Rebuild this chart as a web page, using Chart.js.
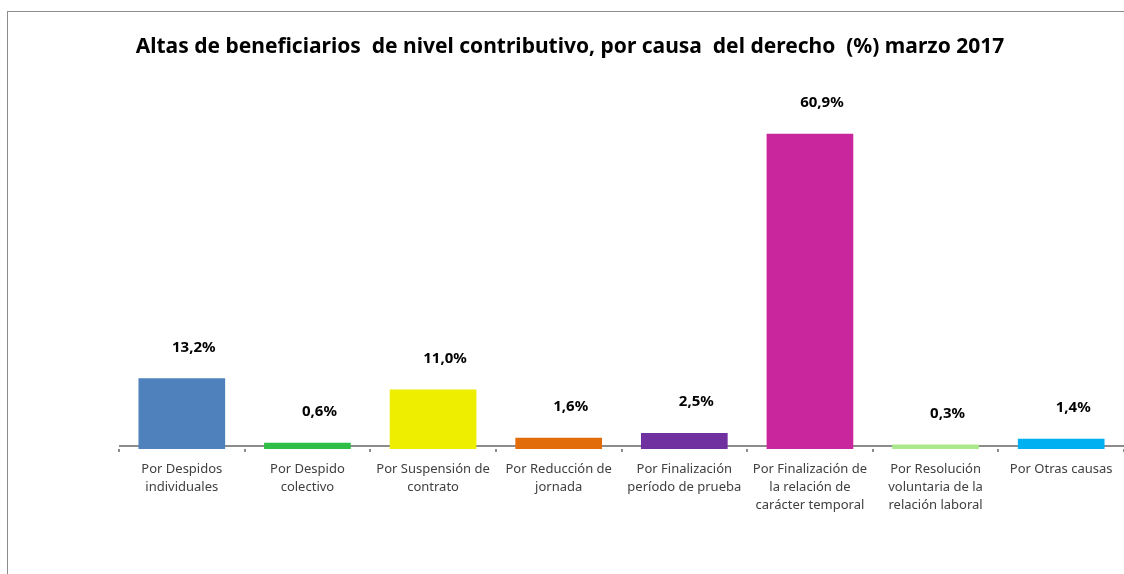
<!DOCTYPE html>
<html>
<head>
<meta charset="utf-8">
<script src="https://cdn.jsdelivr.net/npm/chart.js@4.4.0/dist/chart.umd.min.js"></script>
<style>
  html, body { margin: 0; padding: 0; background: #fff; overflow: hidden; }
  #wrap { position: relative; width: 1124px; height: 574px; }
  #frame { position: absolute; left: 7px; top: 11px; width: 1200px; height: 700px; border: 1px solid #8c8c8c; border-width: 1px 0 0 1px; }
  canvas { position: absolute; left: 0; top: 0; }
</style>
</head>
<body>
<div id="wrap">
  <div id="frame"></div>
  <canvas id="altasChart" width="1124" height="574"></canvas>
</div>
<script>
// categories (multi-line labels)
var causas = [
  ['Por Despidos', 'individuales'],
  ['Por Despido', 'colectivo'],
  ['Por Suspensión de', 'contrato'],
  ['Por Reducción de', 'jornada'],
  ['Por Finalización', 'período de prueba'],
  ['Por Finalización de', 'la relación de', 'carácter temporal'],
  ['Por Resolución', 'voluntaria de la', 'relación laboral'],
  ['Por Otras causas']
];
var porcentajes = [13.2, 0.6, 11.0, 1.6, 2.5, 60.9, 0.3, 1.4];
var colores = ['#4f81bd', '#2fbf47', '#eeee00', '#e26b0a', '#7030a0', '#c9259c', '#a9e98c', '#00b0f0'];

var fontFam = "'Noto Sans', sans-serif";

// percent labels above each bar
var valueLabels = {
  id: 'valueLabels',
  afterDatasetsDraw: function (chart) {
    var ctx = chart.ctx;
    var meta = chart.getDatasetMeta(0);
    ctx.save();
    ctx.font = 'bold 15px ' + fontFam;
    ctx.fillStyle = '#000';
    ctx.textAlign = 'center';
    ctx.textBaseline = 'middle';
    meta.data.forEach(function (bar, i) {
      var txt = porcentajes[i].toFixed(1).replace('.', ',') + '%';
      ctx.fillText(txt, bar.x + 12, bar.y - 31);
    });
    ctx.restore();
  }
};

var ctx = document.getElementById('altasChart').getContext('2d');
new Chart(ctx, {
  type: 'bar',
  data: {
    labels: causas,
    datasets: [{
      data: porcentajes,
      backgroundColor: colores,
      borderWidth: 0,
      base: -0.6,
      barPercentage: 0.69,
      categoryPercentage: 1.0
    }]
  },
  options: {
    responsive: false,
    animation: false,
    layout: { padding: { left: 16, right: 0, top: 0, bottom: 0 } },
    plugins: {
      legend: { display: false },
      tooltip: { enabled: false },
      title: {
        display: true,
        text: 'Altas de beneficiarios  de nivel contributivo, por causa  del derecho  (%) marzo 2017',
        color: '#000',
        font: { family: fontFam, size: 21, weight: 'bold' },
        padding: { top: 34, bottom: 28 }
      }
    },
    scales: {
      x: {
        grid: { display: true, drawOnChartArea: false, drawTicks: true, tickLength: 3, color: '#8c8c8c', lineWidth: 2, offset: true },
        border: { display: false },
        ticks: { color: '#404040', font: { family: fontFam, size: 13, lineHeight: 1.38 }, padding: 8, maxRotation: 0, autoSkip: false },
        afterFit: function (s) { s.height = 574 - 449; }
      },
      y: {
        display: true,
        min: -0.6,
        max: 70,
        afterBuildTicks: function (s) { s.ticks = [{ value: 0 }]; },
        grid: { drawTicks: false, color: '#8c8c8c', lineWidth: 2 },
        border: { display: false },
        ticks: { display: false },
        afterFit: function (s) { s.width = 103; }
      }
    }
  },
  plugins: [valueLabels]
});
</script>
</body>
</html>
